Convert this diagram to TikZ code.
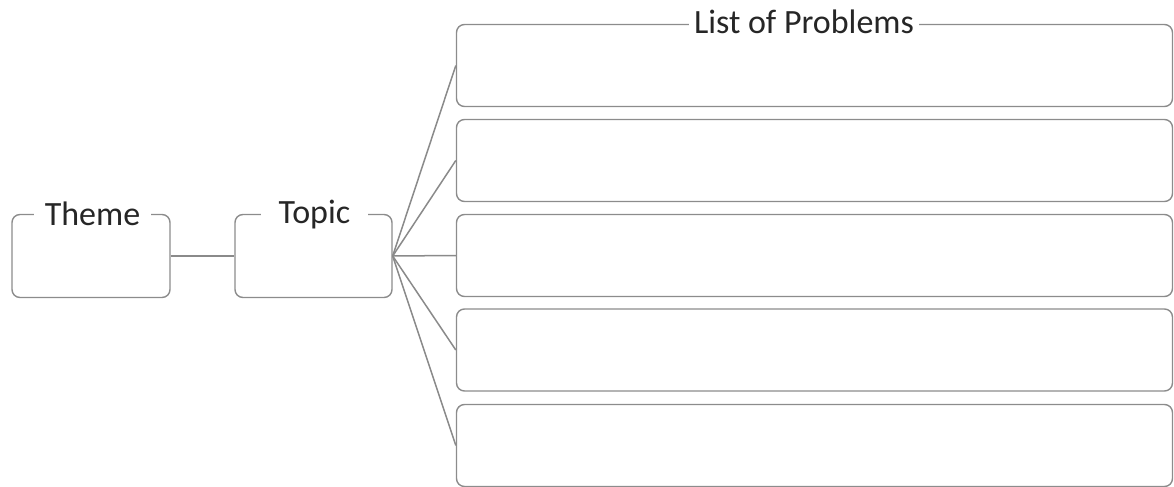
\documentclass[tikz,border=0pt]{standalone}
\usepackage{fontspec}
\setmainfont{Carlito}
\definecolor{boxgray}{HTML}{8C8C8C}
\definecolor{linegray}{HTML}{8A8A8A}
\definecolor{textgray}{HTML}{262626}
\tikzset{
  card/.style={draw=boxgray,line width=0.7pt,rounded corners=4pt,fill=white,inner sep=0pt},
  title/.style={fill=white,text=textgray,font=\fontsize{17}{20}\selectfont,anchor=base,inner ysep=1pt},
  branch/.style={draw=linegray,line width=0.75pt},
}
\begin{document}
\begin{tikzpicture}[x=0.5pt,y=-0.5pt]
\useasboundingbox (0,0) rectangle (1174,487);
% left boxes
\node [card,minimum width=79pt,minimum height=41.5pt] (theme) at (91,256) {};
\node [card,minimum width=78.5pt,minimum height=41.5pt] (topic) at (313.5,256) {};
% list boxes
\foreach \i/\y in {1/65.5,2/160.5,3/255.5,4/350,5/445.5}
  \node [card,minimum width=358pt,minimum height=41pt] (prob\i) at (814.5,\y) {};
% labels on the top borders
\node [title,inner xsep=5.5pt] (themelabel) at (92.5,225) {Theme};
\node [title,inner xsep=9pt] (topiclabel) at (314.5,223) {Topic};
\node [title,inner xsep=2.5pt] (problabel) at (804,33) {List of Problems};
% connectors
\draw [branch] (theme) -- (topic);
\foreach \i in {1,...,5}
  \draw [branch] (topic.east) -- (prob\i.west);
\end{tikzpicture}
\end{document}
